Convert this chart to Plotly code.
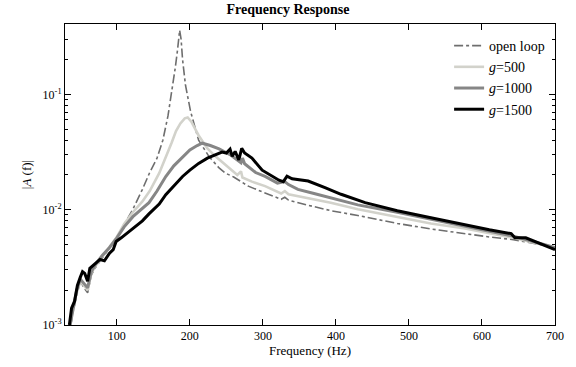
import plotly.graph_objects as go

# ---- data ----
freq_ol = [37, 40, 45, 50, 55, 60, 65, 70, 80, 90, 100, 110, 122, 135, 145, 155, 163, 170, 176, 180, 183, 185, 186,
           188, 190, 194, 201, 212, 226, 240, 249, 260, 270, 280, 300, 325, 330, 335, 360, 393, 430, 484, 530, 575,
           610, 643, 670, 700]
amp_ol = [0.001, 0.0013, 0.0018, 0.0024, 0.0021, 0.0019, 0.0027, 0.0031, 0.0038, 0.0046, 0.0057, 0.0074, 0.0101,
          0.015, 0.021, 0.028, 0.040, 0.065, 0.11, 0.17, 0.24, 0.33, 0.36, 0.30, 0.20, 0.12, 0.071, 0.040, 0.029,
          0.023, 0.0207, 0.0192, 0.0176, 0.016, 0.0142, 0.0123, 0.0128, 0.0121, 0.011, 0.0098, 0.0089, 0.0076,
          0.0068, 0.0062, 0.0058, 0.0055, 0.0051, 0.0047]

freq_500 = [36, 40, 45, 50, 55, 60, 65, 70, 80, 90, 100, 110, 122, 135, 145, 158, 168, 175, 181, 187, 193, 197, 202,
            212, 224, 235, 247, 258, 265, 270, 272, 285, 303, 325, 330, 335, 348, 370, 393, 430, 484, 530, 575, 610,
            643, 670, 700]
amp_500 = [0.001, 0.0014, 0.0019, 0.0024, 0.0022, 0.0020, 0.0028, 0.0032, 0.0039, 0.0047, 0.0058, 0.0075, 0.0095,
           0.0118, 0.0145, 0.0207, 0.029, 0.038, 0.048, 0.056, 0.062, 0.063, 0.058, 0.044, 0.034, 0.029, 0.025,
           0.022, 0.020, 0.0215, 0.019, 0.0175, 0.016, 0.0138, 0.0145, 0.0136, 0.0131, 0.0123, 0.0115, 0.0101,
           0.0086, 0.0076, 0.0069, 0.0063, 0.0057, 0.0052, 0.0047]

freq_1000 = [36, 40, 45, 50, 55, 60, 65, 70, 80, 90, 100, 110, 122, 135, 144, 155, 167, 178, 190, 200, 210, 217, 228,
             240, 255, 265, 270, 272, 275, 290, 303, 320, 330, 335, 348, 370, 393, 430, 484, 530, 575, 610, 643, 670,
             700]
amp_1000 = [0.001, 0.0014, 0.002, 0.0025, 0.0023, 0.0021, 0.0029, 0.0033, 0.0040, 0.0047, 0.0057, 0.0071, 0.0087,
            0.0102, 0.0115, 0.0145, 0.0194, 0.024, 0.0287, 0.033, 0.036, 0.0377, 0.036, 0.0337, 0.030, 0.027, 0.0255,
            0.028, 0.025, 0.021, 0.0194, 0.017, 0.0175, 0.0165, 0.015, 0.0138, 0.0127, 0.011, 0.0095, 0.0083,
            0.0073, 0.0066, 0.0059, 0.0053, 0.0047]

freq_1500 = [35, 38, 42, 46, 50, 53, 56, 60, 63, 70, 77, 83, 90, 95, 99, 106, 113, 120, 128, 135, 144, 150, 158, 167,
             178, 190, 200, 212, 224, 235, 244, 250, 255, 258, 262, 267, 271, 275, 285, 299, 312, 322, 328, 333, 340,
             362, 385, 407, 440, 484, 530, 575, 610, 640, 645, 660, 680, 700]
amp_1500 = [0.001, 0.0014, 0.0016, 0.0022, 0.0026, 0.0029, 0.0028, 0.0024, 0.0031, 0.0034, 0.0037, 0.0036, 0.0042,
            0.0045, 0.0053, 0.0057, 0.0062, 0.0068, 0.0074, 0.008, 0.0092, 0.0101, 0.0112, 0.0135, 0.016, 0.0194,
            0.022, 0.0252, 0.028, 0.030, 0.0316, 0.031, 0.0335, 0.029, 0.032, 0.027, 0.034, 0.031, 0.028, 0.022,
            0.0195, 0.018, 0.0175, 0.0195, 0.0185, 0.0177, 0.0155, 0.0136, 0.0115, 0.0098, 0.0085, 0.0074, 0.0067,
            0.0062, 0.0057, 0.0057, 0.0051, 0.0045]

x_ticks = [100, 200, 300, 400, 500, 600, 700]
y_ticks = [1e-3, 1e-2, 1e-1]
y_tick_text = ["10<sup>-3</sup>", "10<sup>-2</sup>", "10<sup>-1</sup>"]
y_minor_ticks = [m * 10.0 ** e for e in (-3, -2, -1) for m in range(2, 10)]

FONT = "Liberation Serif"
F12 = dict(family=FONT, size=12, color="black")
F13 = dict(family=FONT, size=13, color="black")

fig = go.Figure()
fig.add_trace(go.Scatter(x=freq_ol, y=amp_ol, mode="lines", name="open loop",
                         line=dict(color="#6e6e6e", width=1.6, dash="dashdot")))
fig.add_trace(go.Scatter(x=freq_500, y=amp_500, mode="lines", name="<i>g</i>=500",
                         line=dict(color="#d2d2cb", width=2.6)))
fig.add_trace(go.Scatter(x=freq_1000, y=amp_1000, mode="lines", name="<i>g</i>=1000",
                         line=dict(color="#868686", width=3)))
fig.add_trace(go.Scatter(x=freq_1500, y=amp_1500, mode="lines", name="<i>g</i>=1500",
                         line=dict(color="#000000", width=3)))
# helper trace (invisible) so the minor-tick overlay axis is drawn
fig.add_trace(go.Scatter(x=[100], y=[0.01], yaxis="y2", mode="markers", marker=dict(opacity=0),
                         showlegend=False, hoverinfo="skip"))

fig.update_layout(
    width=576, height=367,
    margin=dict(l=65, r=16, t=24, b=34),
    paper_bgcolor="white", plot_bgcolor="white",
    font=F13,
    title=dict(text="<b>Frequency Response</b>", x=0.5, xanchor="center", y=0.988, yanchor="top",
               font=dict(family=FONT, size=14, color="black")),
    showlegend=True,
    legend=dict(x=0.99, y=0.98, xanchor="right", yanchor="top", bgcolor="rgba(0,0,0,0)",
                font=dict(family=FONT, size=14, color="black"), tracegroupgap=0, itemwidth=30),
    xaxis=dict(range=[29, 700], tickvals=x_ticks, ticks="inside", ticklen=6, tickwidth=1,
               tickcolor="black", mirror="ticks", showline=True, linecolor="black", linewidth=1,
               showgrid=False, zeroline=False,
               title=dict(text="Frequency (Hz)", standoff=2, font=F13), tickfont=F12),
    yaxis=dict(type="log", range=[-3, -0.39], tickvals=y_ticks, ticktext=y_tick_text,
               ticks="inside", ticklen=6, tickwidth=1, tickcolor="black", mirror="ticks", showline=True,
               linecolor="black", linewidth=1, showgrid=False, zeroline=False,
               title=dict(text="|<i>A</i> (f)|", standoff=8, font=F13), tickfont=F12),
    yaxis2=dict(type="log", range=[-3, -0.39], overlaying="y", side="left", tickmode="array",
                tickvals=y_minor_ticks, ticktext=[""] * len(y_minor_ticks), ticks="inside", ticklen=3,
                tickwidth=1, tickcolor="black", mirror="ticks", showline=False, showgrid=False,
                zeroline=False),
)

fig.write_html("out.html")
